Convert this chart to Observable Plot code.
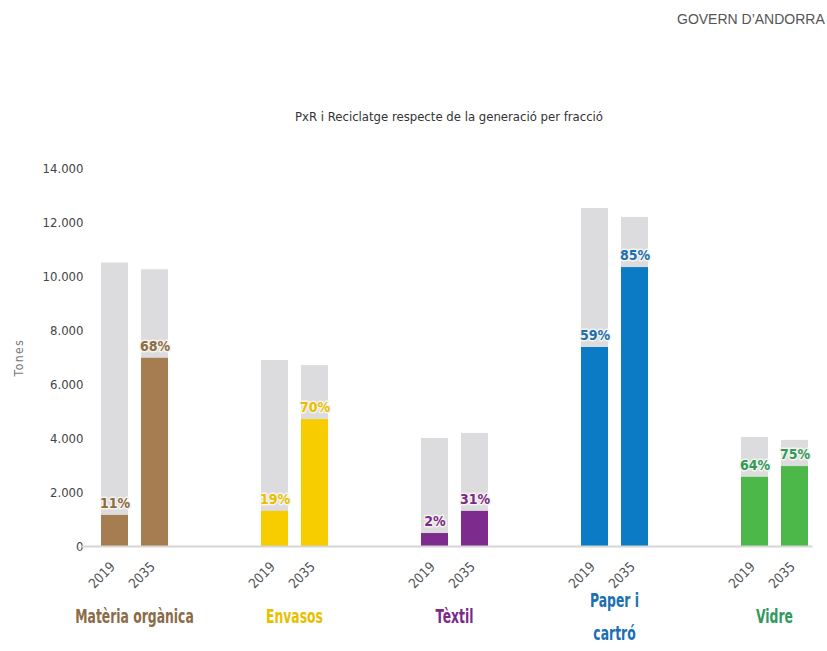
<!DOCTYPE html>
<html><head><meta charset="utf-8">
<script src="https://cdn.jsdelivr.net/npm/d3@7"></script>
<script src="https://cdn.jsdelivr.net/npm/@observablehq/plot@0.6"></script>
<style>
body{margin:0;background:#fff;width:827px;height:651px;overflow:hidden;position:relative;font-family:"Liberation Sans Narrow","DejaVu Sans Condensed",sans-serif}
#gov{position:absolute;left:677px;top:11px;font-family:"Liberation Sans",Arial,sans-serif;font-size:14px;color:#555;white-space:nowrap}
#title{position:absolute;left:0;width:898px;top:109px;text-align:center;font-size:13px;color:#333}
#chart{position:absolute;left:0;top:140px}
.tones text{letter-spacing:1.5px}
</style></head>
<body>
<div id="gov">GOVERN D’ANDORRA</div>
<div id="title">PxR i Reciclatge respecte de la generació per fracció</div>
<div id="chart"></div>
<script>
const categories = ["Matèria orgànica","Envasos","Tèxtil","Paper i cartró","Vidre"];
const categoryLabels = ["Matèria orgànica","Envasos","Tèxtil","Paper i\ncartró","Vidre"];
const years = ["2019","2035"];
const generation2019 = [10500, 6890, 4000, 12520, 4040];
const generation2035 = [10250, 6700, 4190, 12190, 3930];
const recycled2019 = [1150, 1300, 480, 7370, 2560];
const recycled2035 = [6970, 4700, 1300, 10330, 2960];
const pct2019 = ["11%","19%","2%","59%","64%"];
const pct2035 = ["68%","70%","31%","85%","75%"];
const yTicks = [0,2000,4000,6000,8000,10000,12000,14000];

const barColors = ["#a67d50","#f8cd00","#7e2b8e","#0a7bc4","#4db84a"];
const textColors = ["#8c6c46","#e6c000","#7a2a8a","#1b6fb3","#2f9a5d"];
const greyColor = "#dcdcde";

const rows = [];
categories.forEach((c, i) => {
  rows.push({cat: c, i, year: years[0], gen: generation2019[i], rec: recycled2019[i], pct: pct2019[i]});
  rows.push({cat: c, i, year: years[1], gen: generation2035[i], rec: recycled2035[i], pct: pct2035[i]});
});
const catRows = categories.map((c, i) => ({cat: c, i, label: categoryLabels[i]}));
const fmt = d => d === 0 ? "0" : d3.format(",")(d).replace(/,/g, ".");
const font = '"Liberation Sans Narrow","DejaVu Sans Condensed",sans-serif';

const chart = Plot.plot({
  width: 827, height: 511,
  marginLeft: 84, marginRight: 4, marginTop: 28, marginBottom: 105,
  style: {fontFamily: font, fontSize: "13px", color: "#444", background: "white"},
  fx: {domain: categories, paddingInner: 0.4026, paddingOuter: 0, axis: null, label: null},
  x: {domain: years, paddingInner: 0.325, paddingOuter: 0.3625, axis: null},
  y: {domain: [0, 14000], ticks: yTicks, tickFormat: fmt, tickSize: 0, tickPadding: 3, label: null},
  color: {type: "identity"},
  marks: [
    Plot.barY(rows, {fx: "cat", x: "year", y: "gen", fill: greyColor}),
    Plot.barY(rows, {fx: "cat", x: "year", y: "rec", fill: d => barColors[d.i]}),
    Plot.frame({anchor: "bottom", facet: "super", stroke: "#d6d6d6", strokeWidth: 2, insetLeft: -4, insetRight: 11}),
    Plot.text(rows, {fx: "cat", x: "year", y: "rec", text: "pct", dy: -12,
      fill: d => textColors[d.i], fontWeight: "bold", fontSize: 14,
      stroke: "#f5f3ec", strokeWidth: 3}),
    Plot.text(rows, {fx: "cat", x: "year", text: "year", frameAnchor: "bottom",
      rotate: -45, textAnchor: "end", dx: 1, dy: 21, fontSize: 13.5, fill: "#555"}),
    Plot.text(catRows, {fx: "cat", text: "label", frameAnchor: "bottom", lineAnchor: "middle", dy: 66,
      lineHeight: 1.72, fontSize: 16, fontWeight: "bold", fill: d => textColors[d.i], className: "catlab"}),
    Plot.text(["Tones"], {facet: "super", frameAnchor: "left", textAnchor: "middle", dx: -67, rotate: -90,
      fontSize: 12, fill: "#777", className: "tones"})
  ]
});
// condensed, taller look of the category captions (style only)
chart.querySelectorAll(".catlab text").forEach(t => {
  const tr = t.getAttribute("transform") || "";
  t.setAttribute("transform", tr + " scale(0.86,1.2)");
});
document.getElementById("chart").appendChild(chart);
</script>
</body></html>
